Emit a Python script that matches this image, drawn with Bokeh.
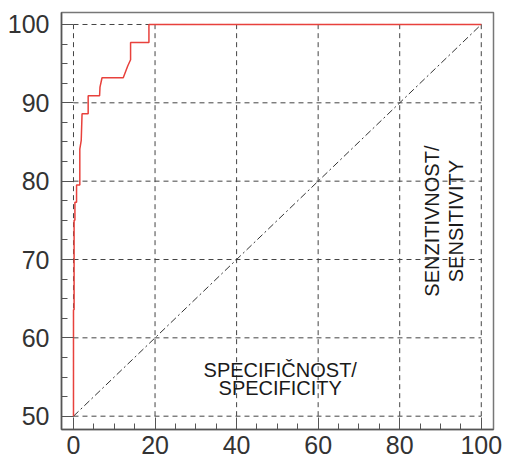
from bokeh.plotting import figure
from bokeh.models import FixedTicker, Range1d
from bokeh.core.properties import value
from bokeh.embed import file_html
from bokeh.resources import INLINE

# ---- data ----
x_ticks = [0, 20, 40, 60, 80, 100]
x_minor = [0, 5, 10, 15, 20, 25, 30, 35, 40, 45, 50, 55, 60, 65, 70, 75, 80, 85, 90, 95, 100]
y_ticks = [50, 60, 70, 80, 90, 100]
y_minor = [50, 52.5, 55, 57.5, 60, 62.5, 65, 67.5, 70, 72.5, 75, 77.5, 80, 82.5, 85, 87.5,
           90, 92.5, 95, 97.5, 100]

roc_fpr = [0, 0, 0.15, 0.15, 0.35, 0.35, 0.75, 0.75, 1.55, 1.55, 1.9, 2.1, 3.6, 3.6,
           6.4, 6.5, 7.0, 12.2, 13.3, 14.0, 14.0, 18.5, 18.5, 100]
roc_tpr = [50, 63.6, 63.6, 75.0, 75.0, 77.3, 77.3, 79.5, 79.5, 84.1, 85.2, 88.6, 88.6, 90.9,
           90.9, 92.0, 93.2, 93.2, 94.7, 95.5, 97.7, 97.7, 100, 100]

diag_x = [0, 100]
diag_y = [50, 100]

spec_lines = ["SPECIFIČNOST/", "SPECIFICITY"]
sens_lines = ["SENZITIVNOST/", "SENSITIVITY"]

FONT = "Liberation Sans"

p = figure(width=505, height=464, output_backend="svg", toolbar_location=None,
           x_range=Range1d(-2.94, 103.0), y_range=Range1d(48.3, 101.53),
           min_border_left=61, min_border_top=12, min_border_right=12, min_border_bottom=35)
p.xgrid.visible = False
p.ygrid.visible = False
p.background_fill_color = "white"
p.border_fill_color = "white"
p.outline_line_color = "#777777"
p.outline_line_width = 1.5

for ax, ticks, minor in ((p.xaxis, x_ticks, x_minor), (p.yaxis, y_ticks, y_minor)):
    ax.ticker = FixedTicker(ticks=ticks, minor_ticks=minor)
    ax.major_tick_in = 12
    ax.major_tick_out = 0
    ax.minor_tick_in = 6
    ax.minor_tick_out = 0
    ax.axis_line_color = "#555555"
    ax.axis_line_width = 1.5
    ax.major_tick_line_color = "#555555"
    ax.minor_tick_line_color = "#555555"
    ax.major_label_text_font = FONT
    ax.major_label_text_font_size = "25px"
    ax.major_label_text_color = "#333333"
p.xaxis.major_label_standoff = 6
p.yaxis.major_label_standoff = 12

# grid lines confined to the data box
p.segment(x0=[x_ticks[0]] * len(y_ticks), y0=y_ticks, x1=[x_ticks[-1]] * len(y_ticks), y1=y_ticks,
          line_color="#444444", line_width=1, line_dash="5 4")
p.segment(x0=x_ticks, y0=[y_ticks[0]] * len(x_ticks), x1=x_ticks, y1=[y_ticks[-1]] * len(x_ticks),
          line_color="#444444", line_width=1, line_dash="5 4")

# diagonal reference
p.line(diag_x, diag_y, line_color="#333333", line_width=1, line_dash="7 3 2 3")

# ROC curve
p.line(roc_fpr, roc_tpr, line_color="#e8413c", line_width=1.5)

# labels inside plot
p.text(x=[50.7, 50.7], y=[55.9, 53.6], text=spec_lines, text_align="center",
       text_baseline="alphabetic", text_font=value(FONT), text_font_size="20px",
       text_color="#1a1a1a")
p.text(x=[88.0, 93.8], y=[74.9, 74.9], text=sens_lines, angle=1.5707963, text_align="center",
       text_baseline="alphabetic", text_font=value(FONT), text_font_size="20px",
       text_color="#1a1a1a")

open("out.html", "w").write(file_html(p, INLINE))
